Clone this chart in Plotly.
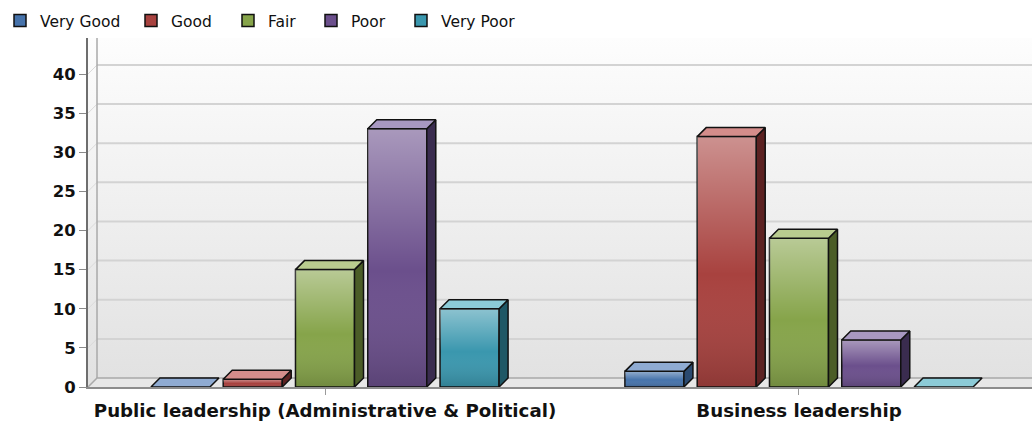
import plotly.graph_objects as go

# ---- data -------------------------------------------------------------
categories = ["Public leadership (Administrative & Political)", "Business leadership"]
series_names = ["Very Good", "Good", "Fair", "Poor", "Very Poor"]
very_good = [0, 2]
good = [1, 32]
fair = [15, 19]
poor = [33, 6]
very_poor = [10, 0]
y_ticks = [0, 5, 10, 15, 20, 25, 30, 35, 40]

series_values = [very_good, good, fair, poor, very_poor]

# ---- styling ----------------------------------------------------------
base_colors = ["#4673ab", "#a8423f", "#86a44a", "#6b4f8c", "#3a97ae"]
top_colors = ["#8fabd2", "#d48d8b", "#b9cc8f", "#a898c1", "#8ccbd7"]
side_colors = ["#2b4a70", "#5c2222", "#4b5d27", "#3a2c4f", "#1f5866"]

FONT = "DejaVu Sans"
X_MIN, X_MAX = -0.5, 1.4916
Y_MAX = 44.6
DEPTH_X = 0.019      # receding depth in category units
DEPTH_Y = 1.15       # receding depth in value units
SLOT = 0.1525        # spacing between bars within a group
BAR_W = 0.1245       # width of a bar front face

fig = go.Figure()

# back wall with vertical shading
fig.add_trace(go.Scatter(
    x=[X_MIN, 1.6, 1.6, X_MIN, X_MIN], y=[0, 0, Y_MAX, Y_MAX, 0],
    mode="lines", line=dict(width=0), fill="toself",
    fillgradient=dict(type="vertical", colorscale=[[0, "#e1e1e1"], [1, "#fdfdfd"]]),
    hoverinfo="skip", showlegend=False))

# floor of the box
fig.add_trace(go.Scatter(
    x=[X_MIN, 1.6, 1.6 + DEPTH_X, X_MIN + DEPTH_X, X_MIN], y=[0, 0, DEPTH_Y, DEPTH_Y, 0],
    mode="lines", line=dict(width=0), fill="toself", fillcolor="#e7e7e7",
    hoverinfo="skip", showlegend=False))

# wall grid lines, with short connectors from the axis to the wall
gx, gy, cx, cy = [], [], [], []
for v in y_ticks[1:]:
    gx += [X_MIN + DEPTH_X, 1.6, None]
    gy += [v + DEPTH_Y, v + DEPTH_Y, None]
    cx += [X_MIN, X_MIN + DEPTH_X, None]
    cy += [v, v + DEPTH_Y, None]
fig.add_trace(go.Scatter(x=gx, y=gy, mode="lines", line=dict(color="#d3d3d3", width=2),
                         hoverinfo="skip", showlegend=False))
fig.add_trace(go.Scatter(x=cx, y=cy, mode="lines", line=dict(color="#dadada", width=1),
                         hoverinfo="skip", showlegend=False))
# wall corner edge and floor back edge
fig.add_trace(go.Scatter(
    x=[X_MIN + DEPTH_X, X_MIN + DEPTH_X, None, X_MIN, X_MIN + DEPTH_X, 1.6],
    y=[DEPTH_Y, Y_MAX, None, 0, DEPTH_Y, DEPTH_Y],
    mode="lines", line=dict(color="#a9a9a9", width=1.5),
    hoverinfo="skip", showlegend=False))

# ---- bars -------------------------------------------------------------
x_pos = list(range(len(categories)))
for i, (name, vals) in enumerate(zip(series_names, series_values)):
    offset = (i - 2) * SLOT - BAR_W / 2
    fig.add_trace(go.Bar(
        x=x_pos, y=vals, width=BAR_W, offset=offset, name=name,
        marker=dict(color=base_colors[i], line=dict(color="#111111", width=1.5)),
        xaxis="x2", yaxis="y2",
        legend="legend" if i == 0 else f"legend{i + 1}",
        hovertemplate=name + ": %{y}<extra></extra>"))

for i, vals in enumerate(series_values):
    offset = (i - 2) * SLOT - BAR_W / 2
    for c, v in zip(x_pos, vals):
        x0 = c + offset
        x1 = x0 + BAR_W
        if v > 0:
            # light-to-dark shading over the front face
            fig.add_trace(go.Scatter(
                x=[x0, x1, x1, x0, x0], y=[0, 0, v, v, 0],
                mode="lines", line=dict(width=0), fill="toself",
                fillgradient=dict(type="vertical", colorscale=[
                    [0, "rgba(0,0,0,0.16)"], [0.45, "rgba(255,255,255,0)"],
                    [1, "rgba(255,255,255,0.42)"]]),
                xaxis="x2", yaxis="y2", hoverinfo="skip", showlegend=False))
            # right side face
            fig.add_trace(go.Scatter(
                x=[x1, x1 + DEPTH_X, x1 + DEPTH_X, x1, x1],
                y=[0, DEPTH_Y, v + DEPTH_Y, v, 0],
                mode="lines", line=dict(color="#111111", width=1.5),
                fill="toself", fillcolor=side_colors[i],
                xaxis="x2", yaxis="y2", hoverinfo="skip", showlegend=False))
        # top face
        fig.add_trace(go.Scatter(
            x=[x0, x1, x1 + DEPTH_X, x0 + DEPTH_X, x0],
            y=[v, v, v + DEPTH_Y, v + DEPTH_Y, v],
            mode="lines", line=dict(color="#111111", width=1.5),
            fill="toself", fillcolor=top_colors[i],
            xaxis="x2", yaxis="y2", hoverinfo="skip", showlegend=False))

# ---- legends (one per series, laid out in a row) ---------------------
legend_left = [0, 131, 228, 311, 401]
legend_common = dict(
    orientation="h", xref="container", yref="container", xanchor="left",
    yanchor="top", y=1 - 4 / 423, bgcolor="rgba(0,0,0,0)", borderwidth=0,
    font=dict(family=FONT, size=15.5, color="#111111"), itemwidth=30)
legend_layout = {}
for i, left in enumerate(legend_left):
    key = "legend" if i == 0 else f"legend{i + 1}"
    legend_layout[key] = dict(legend_common, x=left / 1032)

axis_font = dict(family=FONT, size=16.5, color="#111111", weight="bold")
fig.update_layout(
    width=1032, height=423,
    margin=dict(l=88, r=0, t=38, b=36),
    paper_bgcolor="white", plot_bgcolor="white",
    barmode="overlay", showlegend=True,
    xaxis=dict(range=[X_MIN, X_MAX], tickmode="array", tickvals=x_pos, ticktext=categories,
               showgrid=False, zeroline=False, showline=True, linecolor="#8c8c8c",
               linewidth=2, ticks="outside", ticklen=6, tickcolor="#9a9a9a", tickwidth=1,
               tickfont=dict(family=FONT, size=18.2, color="#111111", weight="bold"),
               fixedrange=True),
    yaxis=dict(range=[0, Y_MAX], tickmode="array", tickvals=y_ticks,
               showgrid=False, zeroline=False, showline=True, linecolor="#6e6e6e",
               linewidth=2, ticks="outside", ticklen=7, tickcolor="#8a8a8a", tickwidth=1,
               tickfont=axis_font, fixedrange=True),
    xaxis2=dict(range=[X_MIN, X_MAX], overlaying="x", visible=False, fixedrange=True),
    yaxis2=dict(range=[0, Y_MAX], overlaying="y", visible=False, fixedrange=True),
    **legend_layout,
)

fig.write_html("out.html")
